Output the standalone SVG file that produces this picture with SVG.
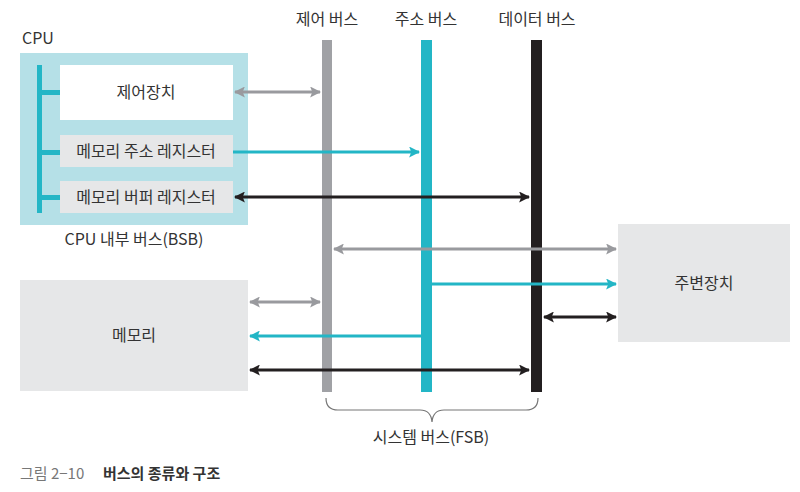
<svg xmlns="http://www.w3.org/2000/svg" width="800" height="492" viewBox="0 0 800 492">
<defs>
<style>
text{font-family:"Noto Sans CJK KR","Noto Sans",sans-serif;fill:#333;font-size:16px}
.c{text-anchor:middle}
.box{fill:#e6e7e8}
.ag{stroke:#999a9e;stroke-width:3;fill:none}
.ac{stroke:#23b6c6;stroke-width:3;fill:none}
.ak{stroke:#231f20;stroke-width:3;fill:none}
</style>
<marker id="hg" viewBox="0 0 10 10" refX="9" refY="5" markerWidth="11" markerHeight="11" markerUnits="userSpaceOnUse" orient="auto-start-reverse"><path d="M0,0 L10,5 L0,10 L2,5 Z" fill="#999a9e"/></marker>
<marker id="hc" viewBox="0 0 10 10" refX="9" refY="5" markerWidth="11" markerHeight="11" markerUnits="userSpaceOnUse" orient="auto-start-reverse"><path d="M0,0 L10,5 L0,10 L2,5 Z" fill="#23b6c6"/></marker>
<marker id="hk" viewBox="0 0 10 10" refX="9" refY="5" markerWidth="11" markerHeight="11" markerUnits="userSpaceOnUse" orient="auto-start-reverse"><path d="M0,0 L10,5 L0,10 L2,5 Z" fill="#231f20"/></marker>
</defs>
<rect width="800" height="492" fill="#fff"/>

<g id="cpu">
<text x="22" y="44">CPU</text>
<rect x="20" y="53" width="228" height="172" fill="#b5e0e7"/>
<rect x="37" y="65" width="5" height="148" fill="#23b6c6"/>
<rect x="42" y="90" width="18" height="5" fill="#23b6c6"/>
<rect x="42" y="150" width="18" height="5" fill="#23b6c6"/>
<rect x="42" y="195" width="18" height="5" fill="#23b6c6"/>
<text class="c" x="134" y="245">CPU 내부 버스(BSB)</text>
</g>
<g id="control">
<rect x="60" y="65" width="173" height="55" fill="#fff"/>
<text class="c" x="146" y="98">제어장치</text>
</g>
<g id="mar">
<rect x="60" y="135" width="173" height="32" class="box"/>
<text class="c" x="146" y="157">메모리 주소 레지스터</text>
</g>
<g id="mbr">
<rect x="60" y="181" width="173" height="32" class="box"/>
<text class="c" x="146" y="203">메모리 버퍼 레지스터</text>
</g>
<g id="memory">
<rect x="20" y="280" width="228" height="111" class="box"/>
<text class="c" x="134" y="341">메모리</text>
</g>
<g id="peripheral">
<rect x="618" y="224" width="172" height="118" class="box"/>
<text class="c" x="704" y="289">주변장치</text>
</g>

<g id="buses">
<text class="c" x="327" y="25">제어 버스</text>
<text class="c" x="426" y="25">주소 버스</text>
<text class="c" x="537" y="25">데이터 버스</text>
<rect x="322" y="40" width="10" height="352" fill="#a0a1a5"/>
<rect x="421" y="40" width="11" height="352" fill="#23b6c6"/>
<rect x="531" y="40" width="11" height="352" fill="#231f20"/>
</g>

<g id="connectors">
<line class="ag" x1="235" y1="92" x2="320" y2="92" marker-start="url(#hg)" marker-end="url(#hg)"/>
<line class="ac" x1="233" y1="152" x2="419" y2="152" marker-end="url(#hc)"/>
<line class="ak" x1="235" y1="197" x2="529" y2="197" marker-start="url(#hk)" marker-end="url(#hk)"/>
<line class="ag" x1="334" y1="249" x2="616" y2="249" marker-start="url(#hg)" marker-end="url(#hg)"/>
<line class="ac" x1="432" y1="284" x2="616" y2="284" marker-end="url(#hc)"/>
<line class="ak" x1="544" y1="317" x2="616" y2="317" marker-start="url(#hk)" marker-end="url(#hk)"/>
<line class="ag" x1="250" y1="302" x2="320" y2="302" marker-start="url(#hg)" marker-end="url(#hg)"/>
<line class="ac" x1="421" y1="336" x2="250" y2="336" marker-end="url(#hc)"/>
<line class="ak" x1="250" y1="370" x2="529" y2="370" marker-start="url(#hk)" marker-end="url(#hk)"/>
</g>

<g id="brace">
<path d="M326,398 Q326,410 338,410 L420,410 Q431,410 432,422 Q433,410 444,410 L526,410 Q538,410 538,398" fill="none" stroke="#777" stroke-width="1.2"/>
<text class="c" x="431" y="443">시스템 버스(FSB)</text>
</g>

<g id="caption">
<text x="20" y="479" style="fill:#777;font-size:15px">그림 2−10</text>
<text x="103" y="479" style="font-weight:bold;font-size:15px;fill:#333">버스의 종류와 구조</text>
</g>
</svg>
